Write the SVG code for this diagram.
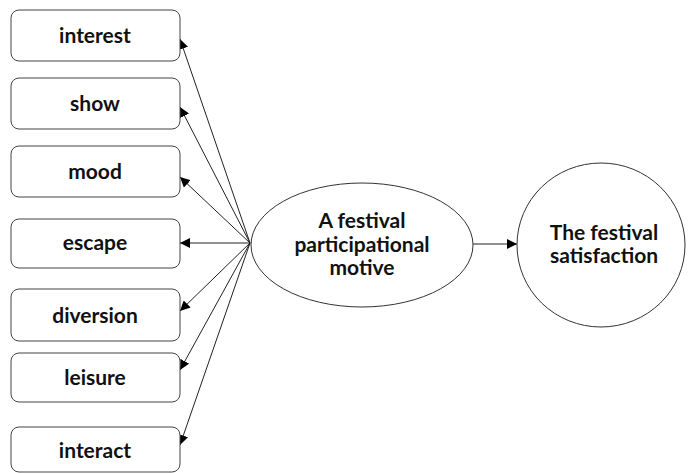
<svg xmlns="http://www.w3.org/2000/svg" width="688" height="474" viewBox="0 0 688 474">
<defs>
<marker id="ah" viewBox="0 0 10 10" refX="10" refY="5" markerWidth="10" markerHeight="10" markerUnits="userSpaceOnUse" orient="auto">
<path d="M0,0 L10,5 L0,10 z" fill="#000"/>
</marker>
</defs>
<style>
.box{fill:#fff;stroke:#444;stroke-width:1}
.sh{fill:#fff;stroke:#333;stroke-width:1}
.t{font-family:Lato,"Open Sans","Liberation Sans",sans-serif;font-weight:bold;font-size:21px;fill:#111;text-anchor:middle}
.c{stroke:#222;stroke-width:1;fill:none;marker-end:url(#ah)}
</style>
<rect width="688" height="474" fill="#fff"/>
<g id="connectors">
<line class="c" x1="250" y1="243" x2="180" y2="39"/>
<line class="c" x1="250" y1="243" x2="180" y2="107"/>
<line class="c" x1="250" y1="243" x2="180" y2="177"/>
<line class="c" x1="250" y1="243" x2="180" y2="243"/>
<line class="c" x1="250" y1="243" x2="180" y2="311"/>
<line class="c" x1="250" y1="243" x2="180" y2="370"/>
<line class="c" x1="250" y1="243" x2="180" y2="445"/>
<line class="c" x1="473" y1="244" x2="517" y2="244"/>
</g>
<g id="interest"><rect class="box" x="11" y="10" width="169" height="51" rx="8"/><text class="t" x="95" y="43">interest</text></g>
<g id="show"><rect class="box" x="11" y="78" width="169" height="51" rx="8"/><text class="t" x="95" y="111">show</text></g>
<g id="mood"><rect class="box" x="11" y="146" width="169" height="51" rx="8"/><text class="t" x="95" y="179">mood</text></g>
<g id="escape"><rect class="box" x="11" y="219" width="169" height="49" rx="8"/><text class="t" x="95" y="250">escape</text></g>
<g id="diversion"><rect class="box" x="11" y="289" width="169" height="52" rx="8"/><text class="t" x="95" y="323">diversion</text></g>
<g id="leisure"><rect class="box" x="11" y="353" width="169" height="49" rx="8"/><text class="t" x="95" y="385">leisure</text></g>
<g id="interact"><rect class="box" x="11" y="427" width="169" height="45" rx="8"/><text class="t" x="95" y="458">interact</text></g>
<g id="motive"><ellipse class="sh" cx="362" cy="245" rx="111" ry="62"/>
<text class="t" x="362" y="228">A festival</text>
<text class="t" x="362" y="252">participational</text>
<text class="t" x="362" y="275">motive</text></g>
<g id="satisfaction"><ellipse class="sh" cx="601" cy="245" rx="84" ry="82"/>
<text class="t" x="604" y="240">The festival</text>
<text class="t" x="604" y="263">satisfaction</text></g>
</svg>
